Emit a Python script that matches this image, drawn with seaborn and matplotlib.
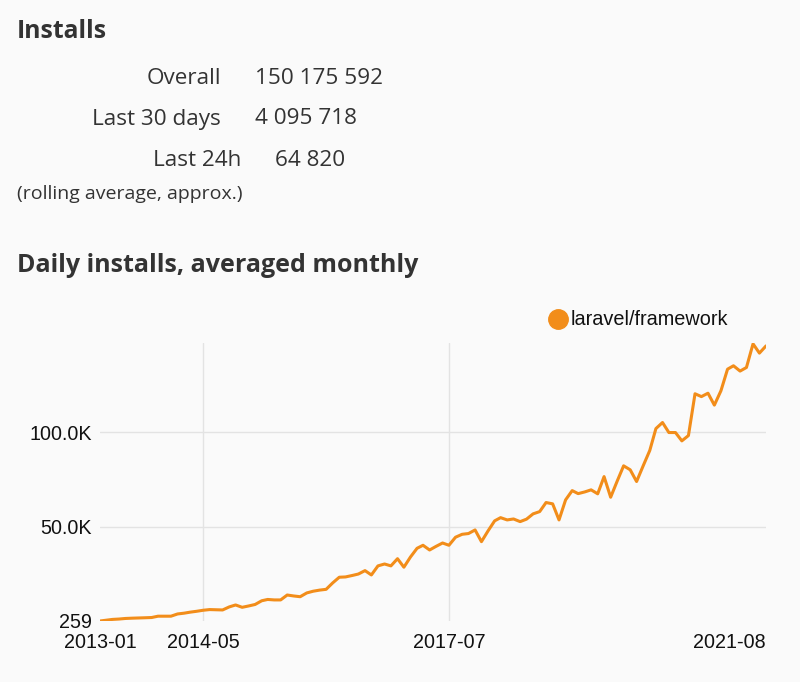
import pandas as pd
import numpy as np
import matplotlib.pyplot as plt
import seaborn as sns
from matplotlib.lines import Line2D

# summary numbers
stat_labels = ['Overall', 'Last 30 days', 'Last 24h']
stat_values = ['150 175 592', '4 095 718', '64 820']

# daily installs, averaged monthly, 2013-01 .. 2021-08
installs = [
    259, 700, 1100, 1300, 1600, 1750, 1860, 1970, 2100, 2800,
    2800, 2800, 3980, 4400, 4930, 5400, 5930, 6300, 6200, 6100,
    7700, 8740, 7500, 8200, 9000, 10960, 11650, 11400, 11400, 14000,
    13500, 13100, 15100, 16000, 16600, 17000, 20400, 23400, 23550, 24300,
    25100, 26900, 24600, 29400, 30400, 29400, 33200, 28700, 34100, 38700,
    40300, 37800, 39700, 41500, 40300, 44550, 46100, 46500, 48400, 42200,
    47900, 53200, 54900, 53700, 54200, 52800, 54100, 56900, 58100, 62900,
    62200, 53700, 64300, 69200, 67600, 68500, 69600, 67500, 76600, 65700,
    74300, 82300, 80200, 74000, 82300, 90400, 102000, 105200, 99900, 99900,
    95500, 98300, 120400, 118900, 120700, 114400, 122000, 133400, 135200, 132400,
    134300, 146800, 141900, 145700,
]
months = pd.date_range('2013-01-01', periods=len(installs), freq='MS')
tick_months = ['2013-01', '2014-05', '2017-07', '2021-08']
y_ticks = [259, 50000, 100000]
y_tick_labels = ['259', '50.0K', '100.0K']
series_name = 'laravel/framework'
line_color = '#f28d1a'

df = pd.DataFrame({'month': months, 'installs': installs})

sns.set_theme(style='white')
plt.rcParams['font.family'] = ['Open Sans', 'DejaVu Sans']
bg = '#fafafa'
txt = '#333333'

fig = plt.figure(figsize=(8, 6.82), dpi=100, facecolor=bg)

# header block
fig.text(17 / 800, 1 - 31 / 682, 'Installs', fontsize=17.8, fontweight='bold',
         color=txt, va='center', ha='left')
row_y = [78, 119, 160]
for lab, val, yy in zip(stat_labels, stat_values, row_y):
    xr = 221 if lab != 'Last 24h' else 241
    xv = 255 if lab != 'Last 24h' else 275
    fig.text(xr / 800, 1 - yy / 682, lab, fontsize=16.2, color=txt,
             ha='right', va='center')
    fig.text(xv / 800, 1 - yy / 682, val, fontsize=16.2, color=txt,
             ha='left', va='center')
fig.text(17 / 800, 1 - 194 / 682, '(rolling average, approx.)', fontsize=14,
         color=txt, ha='left', va='center')
fig.text(17 / 800, 1 - 266 / 682, 'Daily installs, averaged monthly', fontsize=18,
         fontweight='bold', color=txt, ha='left', va='center')

ax = fig.add_axes([100 / 800, 1 - 621 / 682, 666 / 800, 278 / 682])
ax.set_facecolor(bg)
sns.lineplot(data=df, x='month', y='installs', color=line_color, linewidth=2.2, ax=ax)

ax.set_xlim(months[0], months[-1])
ax.set_ylim(259, max(installs) * 1.003)
ax.set_yticks(y_ticks)
ax.set_yticklabels(y_tick_labels)
ax.set_xticks(pd.to_datetime(tick_months))
ax.set_xticklabels(tick_months)
tick_font = ['Liberation Sans', 'DejaVu Sans']
for lab in ax.get_xticklabels() + ax.get_yticklabels():
    lab.set_fontfamily(tick_font)
    lab.set_fontsize(14.2)
    lab.set_color('#111111')
ax.get_xticklabels()[-1].set_horizontalalignment('right')
ax.tick_params(axis='both', length=0)
ax.tick_params(axis='x', pad=9)
ax.tick_params(axis='y', pad=6)
ax.set_xlabel('')
ax.set_ylabel('')
for s in ax.spines.values():
    s.set_visible(False)

# gridlines only where the original shows them
for t in pd.to_datetime(tick_months[1:3]):
    ax.axvline(t, color='#e3e3e3', linewidth=1, zorder=0)
for v in y_ticks[1:]:
    ax.axhline(v, color='#e3e3e3', linewidth=1, zorder=0)

handle = Line2D([0], [0], marker='o', color='none', markerfacecolor=line_color,
                markeredgecolor=line_color, markersize=14)
leg = ax.legend([handle], [series_name], loc='lower right', bbox_to_anchor=(0.955, 1.02),
                frameon=False, handletextpad=0.15, borderaxespad=0, handlelength=1.0,
                prop={'family': tick_font, 'size': 14.3})
for t in leg.get_texts():
    t.set_color('#111111')

fig.savefig('out.png', dpi=100, facecolor=bg)
